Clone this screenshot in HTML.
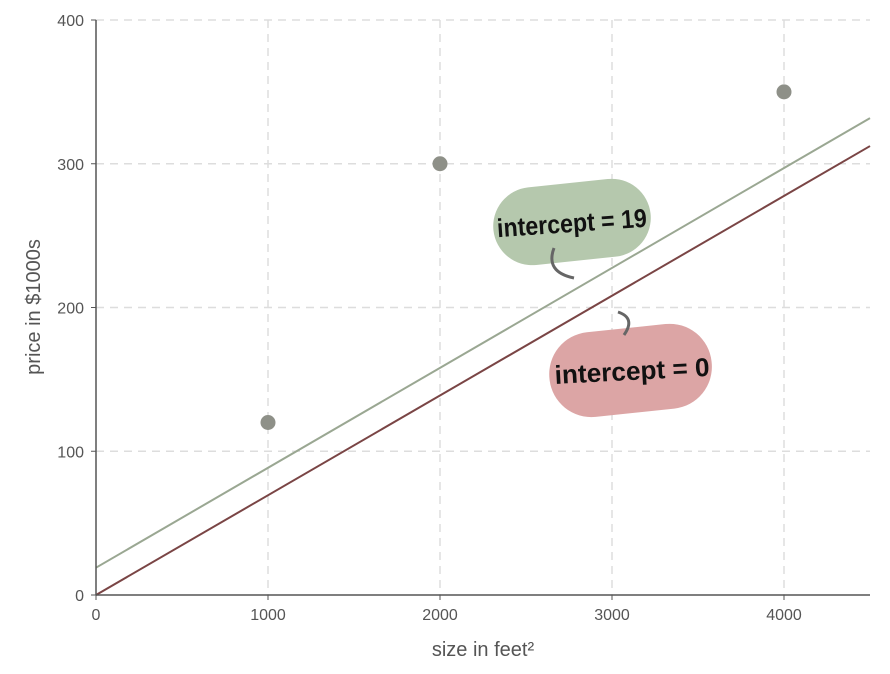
<!DOCTYPE html>
<html><head><meta charset="utf-8"><style>
html,body{margin:0;padding:0;background:#fff;width:890px;height:674px;overflow:hidden}
text{font-family:"Liberation Sans",sans-serif}
</style></head><body>
<svg id="chart" width="890" height="674" xmlns="http://www.w3.org/2000/svg">
<g id="grid"></g>
<g id="lines"></g>
<g id="points"></g>
<g id="axes"></g>
<g>
<rect x="493" y="183" width="158" height="78" rx="39" fill="#b5c8ad" transform="rotate(-6 572 222)"/>
<text x="572" y="232" text-anchor="middle" font-size="26" font-weight="bold" fill="#111" transform="rotate(-4 572 225)" textLength="150" lengthAdjust="spacingAndGlyphs" style="font-family:'Liberation Sans Narrow','Liberation Sans',sans-serif">intercept = 19</text>
<path d="M554 248 Q545 272 574 278" fill="none" stroke="#666" stroke-width="3"/>
</g>
<g>
<rect x="549" y="328" width="163" height="85" rx="42" fill="#dca5a5" transform="rotate(-6 630 370)"/>
<text x="632" y="380" text-anchor="middle" font-size="26" font-weight="bold" fill="#111" transform="rotate(-3 630 370)" textLength="155" lengthAdjust="spacingAndGlyphs" style="font-family:'Liberation Sans Narrow','Liberation Sans',sans-serif">intercept = 0</text>
<path d="M618 312 Q636 318 624 335" fill="none" stroke="#666" stroke-width="3"/>
</g>
</svg>
<script>
const xTicks=[0,1000,2000,3000,4000];
const yTicks=[0,100,200,300,400];
const pointX=[1000,2000,4000];
const pointY=[120,300,350];
const intercepts=[19,0];
const slopes=[0.0695,0.0694];
const lineColors=["#9aa792","#7a4545"];
const NS="http://www.w3.org/2000/svg";
const X0=96,X1=870,Y0=595,Y1=20,xMax=4500,yMax=400;
const sx=v=>X0+v/xMax*(X1-X0);
const sy=v=>Y0-v/yMax*(Y0-Y1);
function mk(t,a,p){const e=document.createElementNS(NS,t);for(const k in a)e.setAttribute(k,a[k]);p.appendChild(e);return e;}
const grid=document.getElementById('grid'),axes=document.getElementById('axes');
xTicks.forEach(v=>{if(v>0){const l=mk('line',{x1:sx(v),x2:sx(v),y1:Y1,y2:Y0,stroke:'#ddd','stroke-dasharray':'8,6','stroke-width':1.5},grid);}
const t=mk('text',{x:sx(v),y:Y0+25,'text-anchor':'middle','font-size':16,fill:'#555'},axes);t.textContent=v;
mk('line',{x1:sx(v),x2:sx(v),y1:Y0,y2:Y0+5,stroke:'#555'},axes);});
yTicks.forEach(v=>{if(v>0){const l=mk('line',{x1:X0,x2:X1,y1:sy(v),y2:sy(v),stroke:'#ddd','stroke-dasharray':'8,6','stroke-width':1.5},grid);}
const t=mk('text',{x:X0-12,y:sy(v)+6,'text-anchor':'end','font-size':16,fill:'#555'},axes);t.textContent=v;
mk('line',{x1:X0-5,x2:X0,y1:sy(v),y2:sy(v),stroke:'#555'},axes);});
mk('line',{x1:X0,x2:X1,y1:Y0,y2:Y0,stroke:'#555','stroke-width':1.5},axes);
mk('line',{x1:X0,x2:X0,y1:Y1,y2:Y0,stroke:'#555','stroke-width':1.5},axes);
let t=mk('text',{x:(X0+X1)/2,y:656,'text-anchor':'middle','font-size':20,fill:'#555'},axes);t.textContent='size in feet²';

t=mk('text',{x:40,y:307,'text-anchor':'middle','font-size':20,fill:'#555',transform:'rotate(-90 40 307)'},axes);t.textContent='price in $1000s';

const lines=document.getElementById('lines');
intercepts.forEach((b,i)=>{const l=mk('line',{x1:sx(0),y1:sy(b),x2:sx(xMax),y2:sy(b+slopes[i]*xMax),stroke:lineColors[i],'stroke-width':2},lines);
});
const pts=document.getElementById('points');
pointX.forEach((x,i)=>{const c=mk('circle',{cx:sx(x),cy:sy(pointY[i]),r:7.5,fill:'#8e9088'},pts);
});
</script>
</body></html>
